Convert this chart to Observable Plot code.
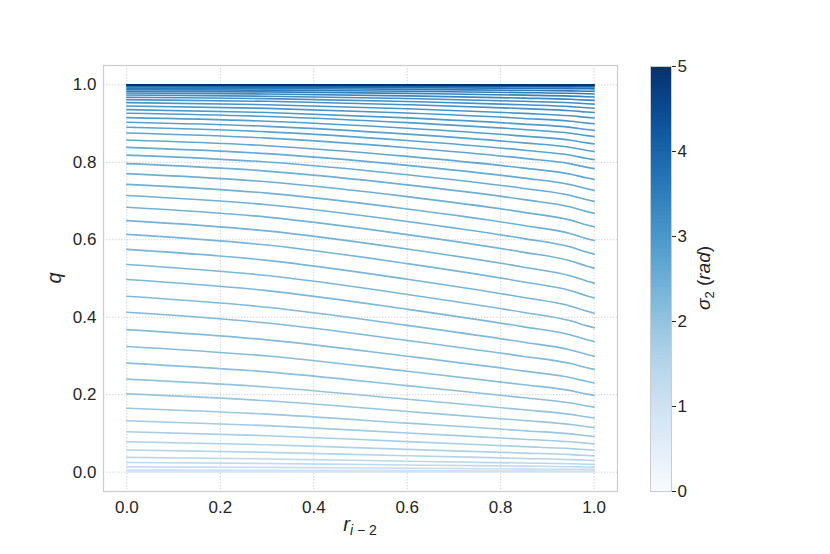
<!DOCTYPE html>
<html><head><meta charset="utf-8">
<script src="https://cdn.jsdelivr.net/npm/d3@7"></script>
<script src="https://cdn.jsdelivr.net/npm/@observablehq/plot@0.6"></script>
<style>
body{margin:0;background:#fff;}
#wrap{position:relative;width:830px;height:554px;}
#wrap svg{position:absolute;top:0;}
</style>
</head><body><div id="wrap"></div>
<script>
// r positions at which each curve was read
const rGrid = [0, 0.3, 0.6, 0.85, 0.95, 0.985, 1.0];
// sigma_2 level of each curve (colour)
const sigmaLevels = [5.0, 4.6, 4.1, 3.9, 3.75, 3.6, 3.5, 3.4, 3.3, 3.2, 3.15, 3.1, 3.05, 3.0, 2.95, 2.9, 2.85, 2.8, 2.75, 2.7,
  2.65, 2.6, 2.55, 2.5, 2.5, 2.45, 2.45, 2.4, 2.4, 2.35, 2.35, 2.3, 2.3, 2.25, 2.25, 2.2, 2.15, 2.1, 2.0, 1.95,
  1.9, 1.8, 1.7, 1.6, 1.5, 1.4, 1.3, 1.15, 1.0, 0.8, 0.6];
// q values of each curve at rGrid
const qCurves = [
  [1, 1, 1, 1, 1, 1, 1],
  [0.9992, 0.9991, 0.9989, 0.9987, 0.9986, 0.9985, 0.9985],
  [0.9984, 0.9982, 0.9978, 0.9974, 0.9971, 0.9970, 0.9969],
  [0.9971, 0.9968, 0.9961, 0.9952, 0.9948, 0.9945, 0.9944],
  [0.9946, 0.9940, 0.9927, 0.9911, 0.9903, 0.9898, 0.9896],
  [0.9914, 0.9904, 0.9883, 0.9859, 0.9846, 0.9837, 0.9834],
  [0.9878, 0.9863, 0.9834, 0.9800, 0.9782, 0.9770, 0.9765],
  [0.9837, 0.9818, 0.9779, 0.9734, 0.9710, 0.9694, 0.9688],
  [0.9790, 0.9765, 0.9716, 0.9658, 0.9627, 0.9607, 0.9600],
  [0.9738, 0.9707, 0.9646, 0.9575, 0.9537, 0.9512, 0.9503],
  [0.9681, 0.9644, 0.9570, 0.9485, 0.9439, 0.9409, 0.9398],
  [0.9619, 0.9575, 0.9488, 0.9387, 0.9333, 0.9298, 0.9285],
  [0.9541, 0.9488, 0.9385, 0.9265, 0.9201, 0.9160, 0.9145],
  [0.9456, 0.9394, 0.9273, 0.9133, 0.9060, 0.9012, 0.8995],
  [0.9360, 0.9288, 0.9148, 0.8987, 0.8902, 0.8847, 0.8827],
  [0.9267, 0.9185, 0.9026, 0.8846, 0.8751, 0.8690, 0.8667],
  [0.9153, 0.9060, 0.8880, 0.8676, 0.8569, 0.8501, 0.8475],
  [0.9034, 0.8929, 0.8728, 0.8501, 0.8383, 0.8307, 0.8279],
  [0.8904, 0.8787, 0.8563, 0.8313, 0.8183, 0.8100, 0.8070],
  [0.8756, 0.8625, 0.8377, 0.8102, 0.7960, 0.7869, 0.7837],
  [0.8575, 0.8429, 0.8153, 0.7850, 0.7694, 0.7595, 0.7559],
  [0.8386, 0.8224, 0.7921, 0.7591, 0.7423, 0.7316, 0.7277],
  [0.8187, 0.8010, 0.7681, 0.7325, 0.7145, 0.7033, 0.6991],
  [0.7966, 0.7773, 0.7417, 0.7037, 0.6846, 0.6727, 0.6682],
  [0.7707, 0.7497, 0.7114, 0.6708, 0.6507, 0.6382, 0.6335],
  [0.7430, 0.7204, 0.6795, 0.6368, 0.6158, 0.6027, 0.5980],
  [0.7145, 0.6905, 0.6473, 0.6029, 0.5811, 0.5677, 0.5629],
  [0.6839, 0.6585, 0.6134, 0.5675, 0.5453, 0.5317, 0.5267],
  [0.6495, 0.6229, 0.5761, 0.5292, 0.5067, 0.4930, 0.4880],
  [0.6140, 0.5864, 0.5384, 0.4910, 0.4686, 0.4550, 0.4499],
  [0.5751, 0.5468, 0.4982, 0.4508, 0.4286, 0.4153, 0.4104],
  [0.5363, 0.5076, 0.4589, 0.4123, 0.3907, 0.3777, 0.3729],
  [0.4974, 0.4688, 0.4205, 0.3751, 0.3543, 0.3418, 0.3373],
  [0.4541, 0.4258, 0.3789, 0.3353, 0.3156, 0.3039, 0.2995],
  [0.4127, 0.3851, 0.3401, 0.2988, 0.2804, 0.2694, 0.2654],
  [0.3679, 0.3416, 0.2992, 0.2609, 0.2439, 0.2340, 0.2303],
  [0.3246, 0.2999, 0.2606, 0.2257, 0.2104, 0.2014, 0.1981],
  [0.2816, 0.2589, 0.2233, 0.1921, 0.1785, 0.1706, 0.1678],
  [0.2402, 0.2198, 0.1882, 0.1609, 0.1491, 0.1423, 0.1398],
  [0.2021, 0.1842, 0.1567, 0.1332, 0.1231, 0.1173, 0.1152],
  [0.1650, 0.1497, 0.1266, 0.1070, 0.0987, 0.0940, 0.0921],
  [0.1329, 0.1202, 0.1010, 0.0851, 0.0783, 0.0744, 0.0730],
  [0.1044, 0.0941, 0.0788, 0.0660, 0.0607, 0.0577, 0.0565],
  [0.0785, 0.0706, 0.0588, 0.0492, 0.0451, 0.0428, 0.0420],
  [0.0570, 0.0511, 0.0424, 0.0354, 0.0324, 0.0307, 0.0301],
  [0.0381, 0.0341, 0.0283, 0.0234, 0.0215, 0.0204, 0.0200],
  [0.0251, 0.0224, 0.0185, 0.0154, 0.0141, 0.0133, 0.0130],
  [0.0137, 0.0122, 0.0101, 0.0084, 0.0076, 0.0072, 0.0071],
  [0.0052, 0.0046, 0.0038, 0.0032, 0.0029, 0.0027, 0.0026],
  [0.0018, 0.0016, 0.0013, 0.0011, 0.0010, 0.0009, 0.0009],
  [0, 0, 0, 0, 0, 0, 0]
];
const xTicks = [0, 0.2, 0.4, 0.6, 0.8, 1.0];
const yTicks = [0, 0.2, 0.4, 0.6, 0.8, 1.0];
const cbTicks = [0, 1, 2, 3, 4, 5];

const rows = [];
sigmaLevels.forEach((s, i) => qCurves[i].forEach((q, j) => rows.push({id: i, sigma: s, r: rGrid[j], q})));
rows.sort((a, b) => (a.sigma - b.sigma) || (a.id - b.id) || (a.r - b.r));

const FONT = "'Liberation Sans', Arial, sans-serif";
const TXT = "#262626";
const GRID = "#d4d4d4";
const colorScale = {type: "linear", scheme: "blues", domain: [0, 5]};
const fmt = d3.format(".1f");

const main = Plot.plot({
  width: 830, height: 554,
  marginLeft: 103, marginRight: 213, marginTop: 65, marginBottom: 63,
  x: {domain: [-0.05, 1.05]},
  y: {domain: [-0.05, 1.05]},
  color: colorScale,
  style: {fontFamily: FONT, background: "white", color: TXT},
  marks: [
    Plot.gridX(xTicks, {stroke: GRID, strokeOpacity: 1, strokeWidth: 1, strokeDasharray: "1.5,1.5"}),
    Plot.gridY(yTicks, {stroke: GRID, strokeOpacity: 1, strokeWidth: 1, strokeDasharray: "1.5,1.5"}),
    Plot.line(rows, {x: "r", y: "q", z: "id", stroke: "sigma", strokeWidth: 1.6, curve: "monotone-x"}),
    Plot.frame({stroke: "#cccccc", strokeWidth: 1.2}),
    Plot.axisX(xTicks, {tickSize: 0, tickPadding: 9, tickFormat: fmt, fontSize: 17, fill: TXT, label: null}),
    Plot.axisY(yTicks, {tickSize: 0, tickPadding: 7, tickFormat: fmt, fontSize: 17, fill: TXT, label: null})
  ]
});

const cbCells = d3.range(0, 5, 0.05);
const cb = Plot.plot({
  width: 120, height: 554,
  marginLeft: 0, marginRight: 99, marginTop: 66, marginBottom: 63,
  x: {domain: [0, 1], axis: null},
  y: {domain: [0, 5]},
  color: colorScale,
  style: {fontFamily: FONT, background: "transparent", color: TXT},
  marks: [
    Plot.rect(cbCells, {x1: 0, x2: 1, y1: d => d, y2: d => Math.min(5, d + 0.06), fill: d => d + 0.025}),
    Plot.frame({stroke: "#cccccc", strokeWidth: 1}),
    Plot.axisY(cbTicks, {anchor: "right", tickSize: 4, tickPadding: 2, tickFormat: d3.format("d"), fontSize: 17, fill: TXT, stroke: TXT, label: null})
  ]
});

const wrap = document.getElementById("wrap");
main.style.left = "0px";
cb.style.left = "650px";
wrap.appendChild(main);
wrap.appendChild(cb);

// axis labels (mathtext-like)
const ms = d3.select(main);
const xl = ms.append("text").attr("x", 360).attr("y", 531).attr("text-anchor", "middle")
  .attr("font-family", FONT).attr("fill", TXT);
xl.append("tspan").attr("font-style", "italic").attr("font-size", 20).text("r");
xl.append("tspan").attr("font-style", "italic").attr("font-size", 14).attr("dy", 4).text("i");
xl.append("tspan").attr("font-size", 14).text(" − 2");

ms.append("text").attr("transform", "translate(61,278) rotate(-90)").attr("text-anchor", "middle")
  .attr("font-family", FONT).attr("fill", TXT).attr("font-style", "italic").attr("font-size", 20).text("q");

const cs = d3.select(cb);
const sl = cs.append("text").attr("transform", "translate(60,278) rotate(-90)").attr("text-anchor", "middle")
  .attr("font-family", FONT).attr("fill", TXT);
sl.append("tspan").attr("font-style", "italic").attr("font-size", 19).text("σ");
sl.append("tspan").attr("font-size", 13).attr("dy", 4).text("2");
sl.append("tspan").attr("font-size", 19).attr("dy", -4).text(" (");
sl.append("tspan").attr("font-style", "italic").attr("font-size", 19).text("rad");
sl.append("tspan").attr("font-size", 19).text(")");
</script>
</body></html>
